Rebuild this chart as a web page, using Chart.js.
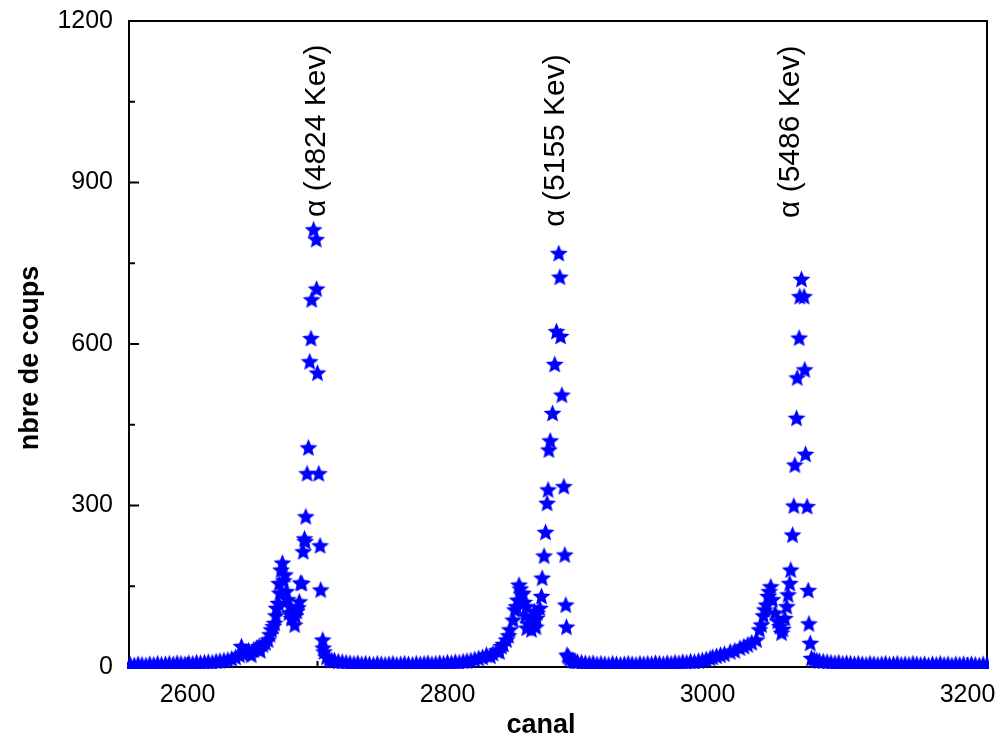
<!DOCTYPE html>
<html>
<head>
<meta charset="utf-8">
<script src="https://cdn.jsdelivr.net/npm/chart.js@4"></script>
<style>
  html, body { margin: 0; padding: 0; background: #fff; }
  #wrap { width: 999px; height: 742px; }
</style>
</head>
<body>
<div id="wrap"><canvas id="spectre" width="999" height="742"></canvas></div>
<script>
// spectre alpha : canal / nombre de coups
const canal = [
  2556, 2559, 2562, 2565, 2568, 2571, 2574, 2577, 2580, 2583, 2586, 2589, 2592, 2595, 2598,
  2601, 2604, 2607, 2610, 2613, 2616, 2619, 2622, 2625, 2628, 2631, 2634,
  2637, 2640, 2641.5, 2643, 2645, 2647, 2649, 2651, 2653, 2655, 2656, 2658, 2660, 2662, 2663.5,
  2664.6, 2666, 2667, 2668, 2668.5, 2670, 2670.5, 2671, 2672, 2673, 2674, 2675, 2676, 2677,
  2678, 2679, 2680, 2681, 2682.5, 2683, 2684, 2685, 2686, 2687, 2688, 2689, 2690, 2690.5, 2691,
  2692, 2693, 2694, 2695, 2695.5, 2697, 2699, 2699.3, 2700, 2701, 2702, 2702.5, 2704, 2704.3,
  2705, 2707, 2709, 2711,
  2713, 2716, 2719, 2722, 2725, 2728, 2731, 2734, 2737, 2740, 2743, 2746, 2749, 2752, 2755,
  2758, 2761, 2764, 2767, 2770, 2773, 2776, 2779, 2782, 2785, 2788, 2791, 2794, 2797, 2800,
  2803, 2806, 2809, 2812, 2815, 2818, 2821, 2824, 2827,
  2830, 2833, 2835, 2838, 2840, 2841.5, 2843, 2845.4, 2847, 2848, 2850.5, 2851.8, 2853, 2854,
  2855, 2856, 2857, 2858, 2859, 2860, 2860.7, 2861, 2862, 2864.6, 2866, 2867, 2868, 2868.5, 2869,
  2871, 2872.3, 2872.8, 2874.3, 2875.4, 2876.6, 2877.4, 2878, 2879, 2880.8, 2882.5, 2883.8,
  2885.6, 2886.4, 2887, 2888, 2889.5, 2890.2, 2891, 2891.5, 2892, 2892.8, 2894, 2896, 2898,
  2900, 2903, 2906, 2909, 2912, 2915, 2918, 2921, 2924, 2927, 2930, 2933, 2936, 2939, 2942,
  2945, 2948, 2951, 2954, 2957, 2960, 2963, 2966, 2969, 2972, 2975, 2978, 2981, 2984, 2987,
  2990, 2993, 2996, 2999,
  3002, 3004, 3007, 3010, 3013, 3017.5, 3021, 3025, 3028, 3031, 3034, 3037.7, 3040, 3041.5,
  3043, 3044, 3045.4, 3046.6, 3047.5, 3048.7, 3050, 3052, 3054, 3055.6, 3057, 3058, 3059.5,
  3061, 3062, 3063.3, 3064, 3065.4, 3066.4, 3067.2, 3068.5, 3069, 3070.5, 3071, 3072.3, 3074.3,
  3074.8, 3075.4, 3076.6, 3077.5, 3078, 3079, 3080, 3082, 3084,
  3086, 3089, 3092, 3095, 3098, 3101, 3104, 3107, 3110, 3113, 3116, 3119, 3122, 3125, 3128,
  3131, 3134, 3137, 3140, 3143, 3146, 3149, 3152, 3155, 3158, 3161, 3164, 3167, 3170, 3173,
  3176, 3179, 3182, 3185, 3188, 3191, 3194, 3197, 3200, 3203, 3206, 3209, 3212, 3215
];
const coups = [
  4, 3, 5, 4, 3, 5, 4, 6, 4, 5, 6, 5, 7, 6, 5,
  7, 6, 8, 7, 8, 9, 8, 10, 11, 12, 13, 15,
  18, 22, 38, 24, 28, 30, 22, 32, 35, 38, 30, 41, 45, 50, 60,
  69, 75, 81, 95, 109, 118, 155, 137, 180, 193, 160, 171, 140, 125,
  100, 112, 90, 100, 78, 95, 103, 110, 121, 156, 155, 214, 238, 233, 279,
  359, 407, 567, 610, 682, 812, 794, 702, 546, 359, 225, 143, 50, 35,
  28, 18, 14, 12,
  12, 10, 9, 8, 7, 6, 7, 5, 6, 5, 4, 6, 5, 4, 5,
  6, 4, 5, 6, 5, 4, 6, 5, 6, 7, 5, 6, 7, 6, 8,
  7, 9, 8, 10, 11, 12, 14, 16, 18,
  22, 20, 25, 30, 28, 38, 42, 50, 58, 69, 87, 106, 112, 124,
  152, 145, 134, 137, 120, 95, 112, 72, 80, 69, 85, 103, 74, 90, 100,
  109, 131, 165, 206, 250, 304, 329, 403, 420, 471, 562, 623,
  768, 724, 614, 505, 335, 208, 115, 74, 22, 19, 15, 12, 10,
  9, 8, 7, 6, 7, 5, 6, 5, 4, 6, 5, 4, 5, 6, 5,
  4, 6, 5, 6, 5, 7, 6, 5, 7, 6, 8, 7, 9, 8, 10,
  9, 11, 12, 14,
  16, 18, 20, 22, 24, 28, 30, 35, 38, 41, 45, 50, 69, 78,
  95, 106, 115, 131, 140, 149, 125, 100, 85, 75, 63, 70, 90,
  112, 134, 155, 180, 245, 299, 375, 462, 537, 611, 688, 720, 688,
  552, 395, 298, 142, 80, 44, 16, 14, 12,
  11, 10, 9, 8, 7, 8, 6, 7, 6, 5, 6, 5, 4, 6, 5,
  4, 5, 6, 4, 5, 6, 4, 5, 4, 6, 5, 4, 5, 3, 5,
  4, 6, 4, 5, 3, 5, 4, 5, 3, 5, 4, 3, 5, 4
];

// raies alpha annotees
const raiesLabels = ['α (4824 Kev)', 'α (5155 Kev)', 'α (5486 Kev)'];
const raiesCanal = [2699.5, 2883.5, 3064];
const raiesCoups = [836, 818, 834];

const xTicks = [2600, 2800, 3000, 3200];
const yTicks = [0, 300, 600, 900, 1200];

const FONT = 'Arial, "Liberation Sans", sans-serif';

// marqueur etoile pleine
function makeStar(R, color) {
  const size = Math.ceil(R * 2) + 2;
  const c = document.createElement('canvas');
  c.width = size; c.height = size;
  const g = c.getContext('2d');
  const cx = size / 2, cy = size / 2 + R * 0.05, r = R * 0.45;
  g.beginPath();
  for (let i = 0; i < 10; i++) {
    const rad = i % 2 === 0 ? R : r;
    const a = -Math.PI / 2 + i * Math.PI / 5;
    const px = cx + rad * Math.cos(a), py = cy + rad * Math.sin(a);
    if (i === 0) g.moveTo(px, py); else g.lineTo(px, py);
  }
  g.closePath();
  g.fillStyle = color;
  g.fill();
  return c;
}
const star = makeStar(9.4, '#0000ff');

// cadre + graduations vers l'interieur + textes
const cadre = {
  id: 'cadre',
  beforeDatasetsDraw(chart) {
    const { ctx, chartArea: a, scales } = chart;
    ctx.save();
    ctx.strokeStyle = '#000';
    ctx.lineWidth = 2;
    ctx.strokeRect(a.left, a.top, a.right - a.left, a.bottom - a.top);
    ctx.beginPath();
    for (let v = 0; v <= 1200; v += 150) {
      const y = scales.y.getPixelForValue(v);
      const len = v % 300 === 0 ? 10 : 6;
      ctx.moveTo(a.left, y); ctx.lineTo(a.left + len, y);
    }
    for (let v = 2600; v <= 3200; v += 100) {
      const x = scales.x.getPixelForValue(v);
      const len = v % 200 === 0 ? 10 : 6;
      ctx.moveTo(x, a.bottom); ctx.lineTo(x, a.bottom - len);
    }
    ctx.stroke();
    ctx.restore();
  },
  afterDatasetsDraw(chart) {
    const { ctx, scales } = chart;
    ctx.save();
    ctx.fillStyle = '#000';
    ctx.font = '30px ' + FONT;
    ctx.textAlign = 'left';
    ctx.textBaseline = 'middle';
    raiesLabels.forEach((t, i) => {
      const x = scales.x.getPixelForValue(raiesCanal[i]);
      const y = scales.y.getPixelForValue(raiesCoups[i]);
      ctx.save();
      ctx.translate(x, y);
      ctx.rotate(-Math.PI / 2);
      ctx.fillText(t, 0, 0);
      ctx.restore();
    });
    // titres des axes
    ctx.font = 'bold 27px ' + FONT;
    ctx.textAlign = 'center';
    ctx.fillText('canal', 541, 726);
    ctx.save();
    ctx.translate(31, 358);
    ctx.rotate(-Math.PI / 2);
    ctx.fillText('nbre de coups', 0, 0);
    ctx.restore();
    ctx.restore();
  }
};

new Chart(document.getElementById('spectre'), {
  type: 'scatter',
  data: {
    datasets: [{
      data: canal.map((c, i) => ({ x: c, y: coups[i] })),
      pointStyle: star,
      pointRadius: 9,
      backgroundColor: '#0000ff',
      borderColor: '#0000ff',
      clip: 2
    }]
  },
  options: {
    responsive: false,
    animation: false,
    layout: { padding: { left: 0, top: 21, right: 12, bottom: 0 } },
    plugins: { legend: { display: false }, tooltip: { enabled: false } },
    scales: {
      x: {
        type: 'linear',
        min: 2555,
        max: 3215,
        afterBuildTicks: s => { s.ticks = xTicks.map(v => ({ value: v })); },
        afterFit: s => { s.height = 75; s.paddingLeft = 0; s.paddingRight = 0; },
        grid: { display: true, drawOnChartArea: false, drawTicks: false },
        border: { display: true, color: '#000', width: 2 },
        ticks: { color: '#000', font: { family: FONT, size: 25 }, padding: 13, callback: v => String(v) }
      },
      y: {
        min: 0,
        max: 1200,
        afterBuildTicks: s => { s.ticks = yTicks.map(v => ({ value: v })); },
        afterFit: s => { s.width = 129; s.paddingTop = 0; s.paddingBottom = 0; },
        grid: { display: true, drawOnChartArea: false, drawTicks: false },
        border: { display: true, color: '#000', width: 2 },
        ticks: { color: '#000', font: { family: FONT, size: 25 }, padding: 16, callback: v => String(v) }
      }
    }
  },
  plugins: [cadre]
});
</script>
</body>
</html>
